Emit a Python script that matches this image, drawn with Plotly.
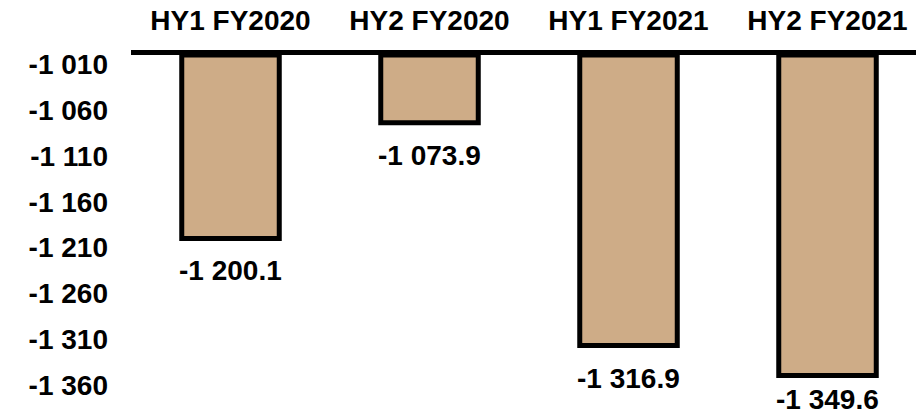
import plotly.graph_objects as go

periods = ['HY1 FY2020', 'HY2 FY2020', 'HY1 FY2021', 'HY2 FY2021']
values = [-1200.1, -1073.9, -1316.9, -1349.6]
tick_vals = [-1010, -1060, -1110, -1160, -1210, -1260, -1310, -1360]

base = -1000
y_min = -1385


def fmt(v, dec):
    return f'{v:,.{dec}f}'.replace(',', ' ')


fig = go.Figure()
fig.add_trace(go.Bar(
    x=periods,
    y=[v - base for v in values],
    base=base,
    width=0.49,
    marker=dict(color='rgb(206,172,135)', line=dict(color='black', width=5)),
))

# value labels under each bar (squeezed for the one near the bottom edge)
for p, v in zip(periods, values):
    shift = -15 if v > y_min + 60 else -6
    fig.add_annotation(x=p, y=v, text=fmt(v, 1), showarrow=False,
                       yanchor='top', yshift=shift)

# page body has an 8px margin, so margins are 8px smaller than on screen
fig.update_layout(
    width=924, height=412,
    margin=dict(l=123, r=5, t=47, b=12),
    paper_bgcolor='white', plot_bgcolor='white',
    font=dict(family='Liberation Sans, Arial', size=28, color='black', weight='bold'),
    showlegend=False,
)
fig.update_xaxes(side='top', showline=True, linecolor='black', linewidth=5,
                 showgrid=False, ticks='', range=[-0.5, 3.5], automargin=False,
                 ticklabelstandoff=9)
fig.update_yaxes(range=[y_min, base], tickvals=tick_vals,
                 ticktext=[fmt(t, 0) for t in tick_vals],
                 showgrid=False, zeroline=False, showline=False, ticks='',
                 ticklabelstandoff=22, automargin=False)

fig.write_html('out.html')
